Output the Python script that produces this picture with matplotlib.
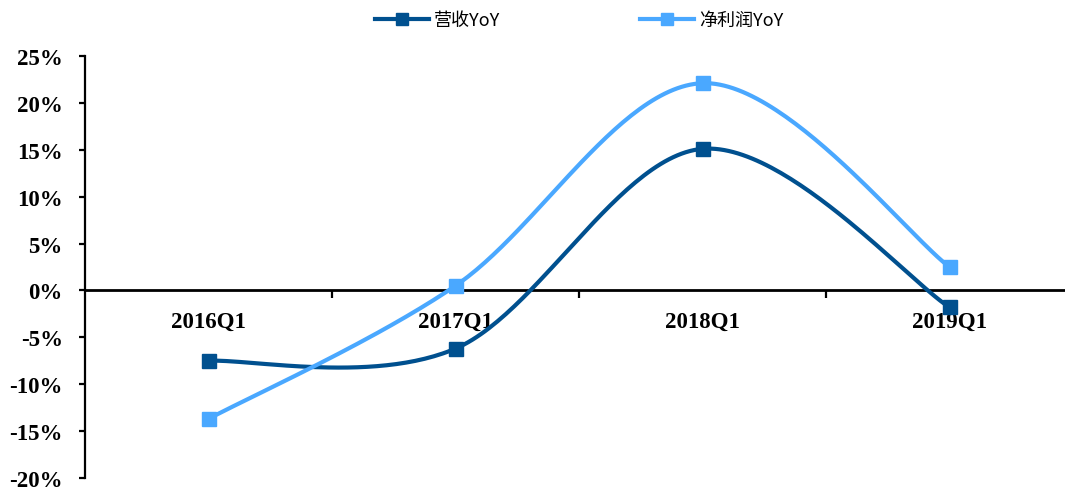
import numpy as np
import matplotlib
matplotlib.use('Agg')
import matplotlib.pyplot as plt
from matplotlib.ticker import FixedLocator

# 季度数据（%）
quarters = ['2016Q1', '2017Q1', '2018Q1', '2019Q1']
revenue_yoy = [-7.5, -6.2, 15.1, -1.8]
profit_yoy = [-13.7, 0.5, 22.1, 2.5]

c_rev = '#00508F'
c_pro = '#4AA8FF'


def smooth_curve(xs, ys, n=60):
    # Excel 风格的平滑曲线：分段三次贝塞尔
    p = np.column_stack([xs, ys]).astype(float)
    m = len(p)
    out = []
    for i in range(m - 1):
        p0 = p[i]
        p3 = p[i + 1]
        prev = p[i - 1] if i > 0 else p[i]
        nxt = p[i + 2] if i + 2 < m else p[i + 1]
        c1 = p0 + (p3 - prev) / 6.0
        c2 = p3 - (nxt - p0) / 6.0
        t = np.linspace(0, 1, n)[:, None]
        seg = ((1 - t) ** 3) * p0 + 3 * ((1 - t) ** 2) * t * c1 \
            + 3 * (1 - t) * t ** 2 * c2 + t ** 3 * p3
        out.append(seg if i == 0 else seg[1:])
    seg = np.vstack(out)
    return seg[:, 0], seg[:, 1]


fig = plt.figure(figsize=(10.65, 4.89), dpi=100)
ax = fig.add_axes([85 / 1065, 10 / 489, 988 / 1065, 422 / 489])

x = np.arange(len(quarters))
for vals, col, name in [(revenue_yoy, c_rev, '营收YoY'),
                        (profit_yoy, c_pro, '净利润YoY')]:
    sx, sy = smooth_curve(x, vals)
    ax.plot(sx, sy, color=col, lw=3, solid_capstyle='round', zorder=3)
    ax.plot(x, vals, ls='none', marker='s', ms=10, color=col, zorder=4)
    ax.plot([], [], color=col, lw=3, marker='s', ms=8, label=name)

ax.set_xlim(-0.5, 3.5)
ax.set_ylim(-20, 25)

ax.spines['top'].set_visible(False)
ax.spines['right'].set_visible(False)
ax.spines['bottom'].set_position(('data', 0))
ax.spines['bottom'].set_linewidth(2)
ax.spines['left'].set_linewidth(1.6)

ax.set_yticks(np.arange(-20, 26, 5))
ax.set_yticklabels([f'{v}%' for v in range(-20, 26, 5)])
ax.tick_params(axis='y', direction='out', length=4, width=1.6, pad=12)

ax.set_xticks(x)
ax.set_xticklabels(quarters)
ax.xaxis.set_minor_locator(FixedLocator([0.5, 1.5, 2.5]))
ax.tick_params(axis='x', which='major', length=0, pad=15)
ax.tick_params(axis='x', which='minor', direction='out', length=6, width=1.6)

for lab in ax.get_xticklabels() + ax.get_yticklabels():
    lab.set_fontfamily('Liberation Serif')
    lab.set_fontweight('bold')
    lab.set_fontsize(16.5)

fig.legend(loc='center', bbox_to_anchor=(579 / 1065, 1 - 21 / 489), ncol=2,
           frameon=False, handlelength=3.0, handletextpad=0.3,
           columnspacing=7.7,
           prop={'family': ['Noto Sans CJK SC', 'DejaVu Sans'], 'size': 13})

fig.savefig('out.png', dpi=100)
